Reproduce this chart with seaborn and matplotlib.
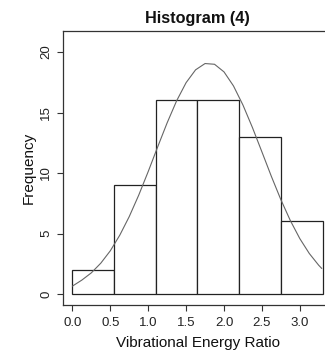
import matplotlib
matplotlib.use("Agg")
import matplotlib.pyplot as plt
import seaborn as sns
import numpy as np

# ---- data ----
bin_edges = [0.0, 0.55, 1.10, 1.65, 2.20, 2.75, 3.30]
bin_counts = [2, 9, 16, 16, 13, 6]
curve_x = [0.0, 0.125, 0.25, 0.375, 0.5, 0.625, 0.75, 0.875, 1.0, 1.125, 1.25,
           1.375, 1.5, 1.625, 1.75, 1.875, 2.0, 2.125, 2.25, 2.375, 2.5, 2.625,
           2.75, 2.875, 3.0, 3.125, 3.25, 3.29]
curve_y = [0.65, 1.15, 1.75, 2.55, 3.57, 4.86, 6.40, 8.17, 10.12, 12.16, 14.15,
           15.97, 17.47, 18.53, 19.05, 18.99, 18.36, 17.20, 15.62, 13.76, 11.75,
           9.72, 7.80, 6.07, 4.58, 3.35, 2.37, 2.11]
x_ticks = [0.0, 0.5, 1.0, 1.5, 2.0, 2.5, 3.0]
x_tick_labels = ["0.0", "0.5", "1.0", "1.5", "2.0", "2.5", "3.0"]
y_ticks = [0, 5, 10, 15, 20]
title = "Histogram (4)"
x_label = "Vibrational Energy Ratio"
y_label = "Frequency"

sns.set_style("white")
plt.rcParams['font.family'] = ['Liberation Sans', 'DejaVu Sans']

W, H = 325, 357
fig = plt.figure(figsize=(W / 100, H / 100), dpi=100)
ax_left, ax_right = 63.3, 63.3 + 269.1
ax_top, ax_bot = 31, 305
ax = fig.add_axes([ax_left / W, (H - ax_bot) / H, (ax_right - ax_left) / W, (ax_bot - ax_top) / H])

centers = [(bin_edges[i] + bin_edges[i + 1]) / 2 for i in range(len(bin_counts))]
sns.histplot(x=centers, weights=bin_counts, bins=bin_edges, stat="count",
             color="white", alpha=1, edgecolor="#222222", linewidth=0.9, ax=ax)
sns.lineplot(x=curve_x, y=curve_y, color="#666666", linewidth=0.8,
             estimator=None, sort=False, ax=ax)

ax.set_xlim(-0.12, 3.43)
ax.set_ylim(-0.91, 21.74)
ax.set_xticks(x_ticks)
ax.set_xticklabels(x_tick_labels)
ax.set_yticks(y_ticks)
ax.set_yticklabels([str(v) for v in y_ticks], rotation=90, va="center")

for s in ax.spines.values():
    s.set_visible(True)
    s.set_color("#333333")
    s.set_linewidth(0.9)

ax.tick_params(axis="both", direction="out", length=4, width=0.8, color="#333333",
               labelsize=9.5, labelcolor="#222222", left=True, bottom=True)
ax.tick_params(axis="x", pad=5)
ax.tick_params(axis="y", pad=4)

ax.set_xlabel(x_label, fontsize=11, color="#111111", labelpad=5)
ax.set_ylabel(y_label, fontsize=11, color="#111111", labelpad=3)
ax.set_title(title, fontsize=11.7, fontweight="bold", color="#111111", pad=6)

fig.savefig("out.png", dpi=100, facecolor="white")
